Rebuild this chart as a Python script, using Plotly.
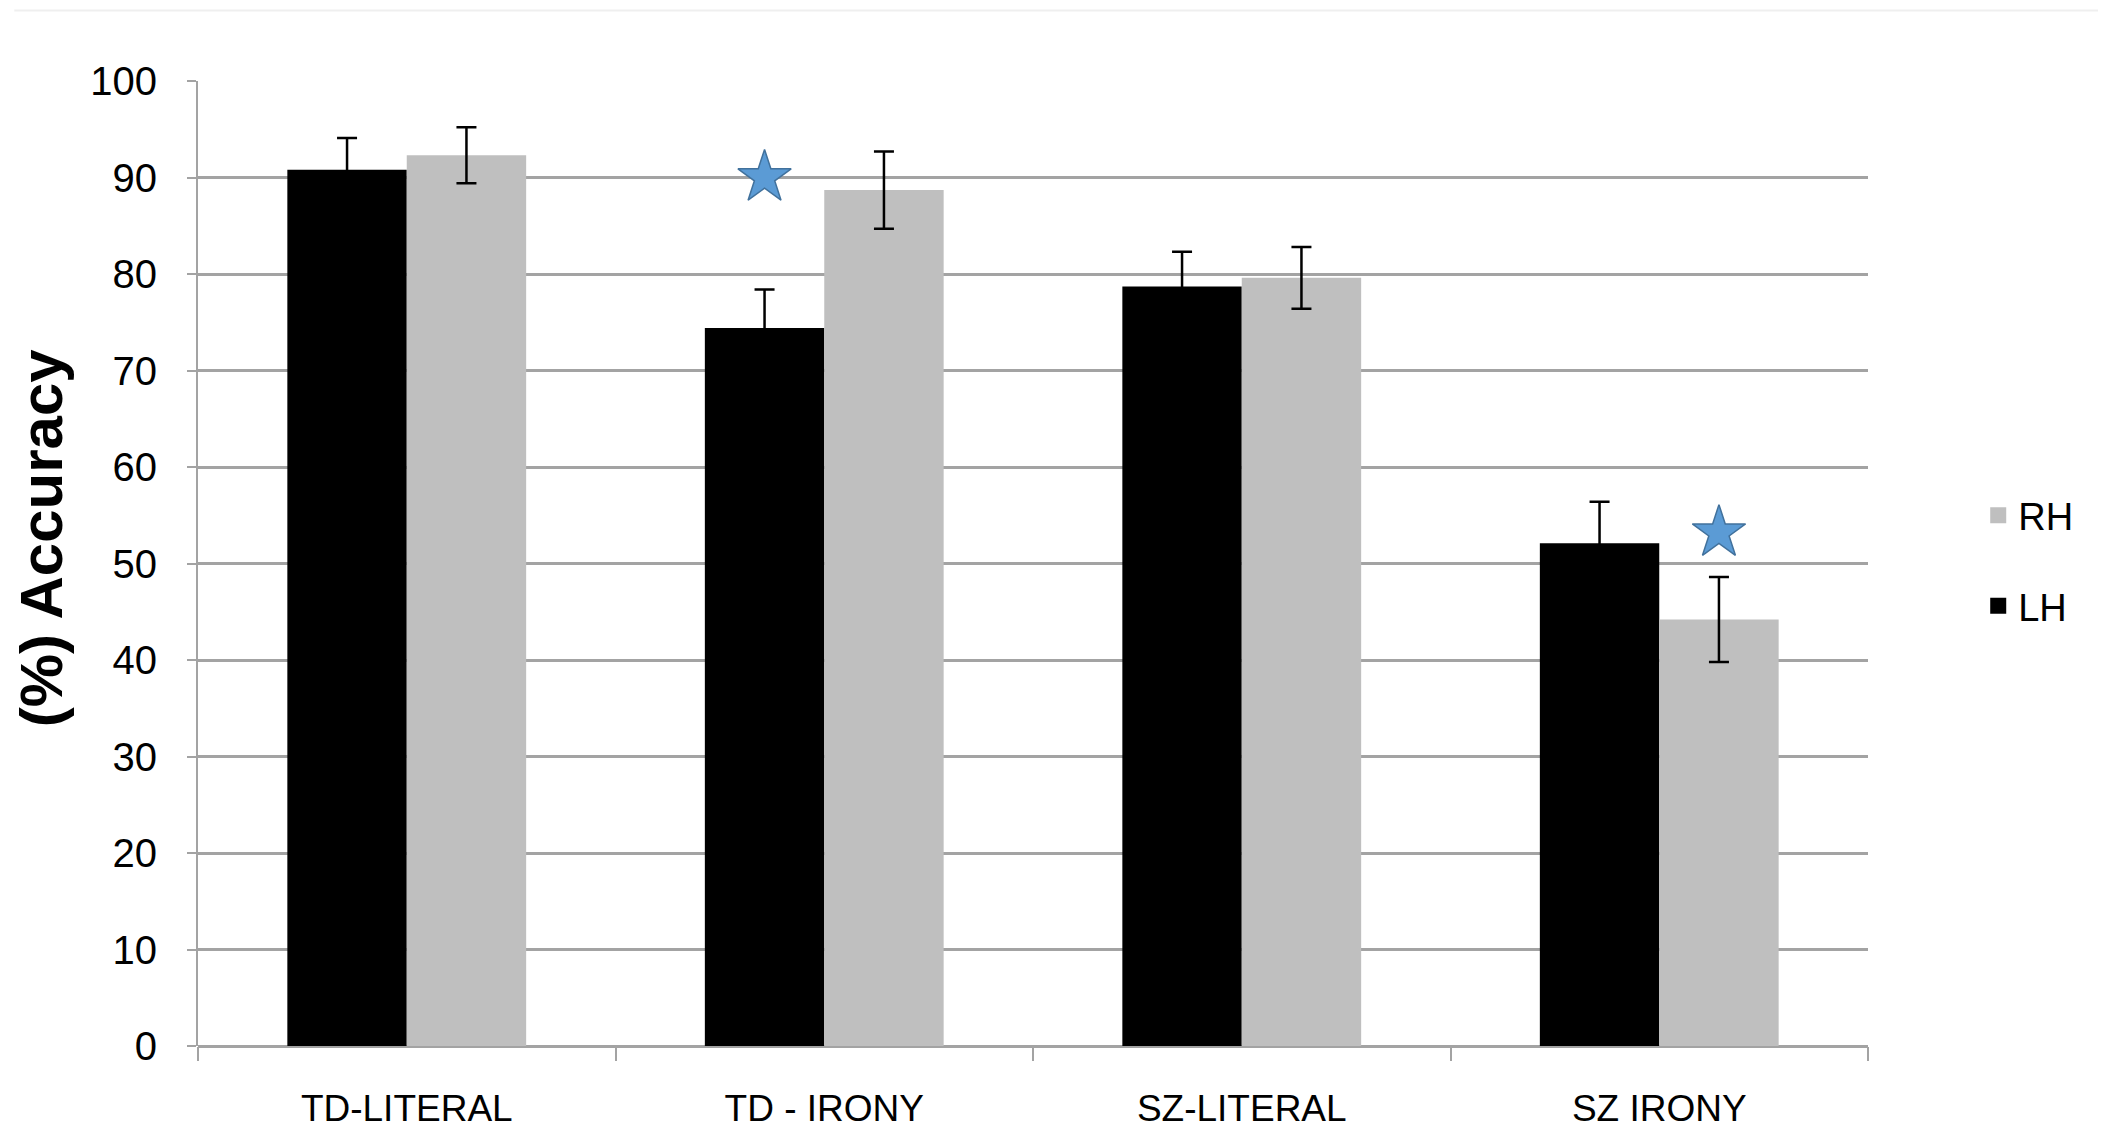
import plotly.graph_objects as go

categories = ["TD-LITERAL", "TD - IRONY", "SZ-LITERAL", "SZ IRONY"]
lh_values = [90.8, 74.4, 78.7, 52.1]
lh_errors = [3.3, 4.0, 3.6, 4.3]
rh_values = [92.3, 88.7, 79.6, 44.2]
rh_errors = [2.9, 4.0, 3.2, 4.4]
y_ticks = [0, 10, 20, 30, 40, 50, 60, 70, 80, 90, 100]

# significance stars: (category, y) for each hemisphere series
star_lh_x = ["TD - IRONY"]
star_lh_y = [90.0]
star_rh_x = ["SZ IRONY"]
star_rh_y = [53.2]

FONT = "Liberation Sans"
GRID = "#A3A3A3"
LH_COLOR = "#000000"
RH_COLOR = "#BFBFBF"

fig = go.Figure()
fig.add_trace(go.Bar(
    name="LH", x=categories, y=lh_values, offsetgroup="LH", showlegend=False,
    marker=dict(color=LH_COLOR, line=dict(width=0)),
    error_y=dict(type="data", array=lh_errors, visible=True, color="#000000",
                 thickness=2.5, width=10),
))
fig.add_trace(go.Bar(
    name="RH", x=categories, y=rh_values, offsetgroup="RH", showlegend=False,
    marker=dict(color=RH_COLOR, line=dict(width=0)),
    error_y=dict(type="data", array=rh_errors, visible=True, color="#000000",
                 thickness=2.5, width=10),
))
star_marker = dict(symbol="star", size=40, color="#5B9BD5",
                   line=dict(color="#41719C", width=1.5))
fig.add_trace(go.Scatter(x=star_lh_x, y=star_lh_y, mode="markers", offsetgroup="LH",
                         marker=star_marker, showlegend=False, hoverinfo="skip"))
fig.add_trace(go.Scatter(x=star_rh_x, y=star_rh_y, mode="markers", offsetgroup="RH",
                         marker=star_marker, showlegend=False, hoverinfo="skip"))

# legend entries (square swatches)
fig.add_trace(go.Scatter(name="RH", x=[None], y=[None], mode="markers", legendrank=1,
                         legendgroup="RH",
                         marker=dict(symbol="square", size=16, color=RH_COLOR)))
fig.add_trace(go.Scatter(name="LH", x=[None], y=[None], mode="markers", legendrank=2,
                         legendgroup="LH",
                         marker=dict(symbol="square", size=16, color=LH_COLOR)))

fig.update_layout(
    width=2106, height=1133,
    margin=dict(l=190, r=246, t=73, b=93, pad=0),
    paper_bgcolor="white", plot_bgcolor="white",
    barmode="group", bargap=0.428, bargroupgap=0,
    scattermode="group", scattergap=0.428,
    font=dict(family=FONT, size=37, color="#000000"),
    showlegend=True,
    legend=dict(x=1.066, y=0.503, xanchor="left", yanchor="middle",
                traceorder="grouped", tracegroupgap=38, itemsizing="trace",
                font=dict(family=FONT, size=38, color="#000000"),
                bgcolor="rgba(0,0,0,0)"),
    xaxis=dict(
        showgrid=False, showline=False, zeroline=False,
        ticks="outside", tickson="boundaries", ticklen=14, tickwidth=2,
        tickcolor=GRID, ticklabelstandoff=37,
        tickfont=dict(family=FONT, size=37, color="#000000"),
    ),
    yaxis=dict(
        range=[0, 100], tickvals=y_ticks, showgrid=True, gridcolor=GRID, gridwidth=2.5,
        zeroline=True, zerolinecolor=GRID, zerolinewidth=2.5,
        showline=True, linecolor=GRID, linewidth=2,
        ticks="outside", ticklen=9, tickwidth=2, tickcolor=GRID,
        ticklabelstandoff=22,
        tickfont=dict(family=FONT, size=40, color="#000000"),
    ),
    annotations=[dict(
        text="<b>(%) Accuracy</b>", xref="paper", yref="paper",
        x=-0.0935, y=0.527, xanchor="center", yanchor="middle",
        textangle=-90, showarrow=False,
        font=dict(family=FONT, size=60, color="#000000"),
    )],
    shapes=[dict(type="line", xref="paper", yref="paper", x0=-0.11, x1=1.14,
                 y0=1.073, y1=1.073, line=dict(color="#EFEFEF", width=2))],
)

fig.write_html("out.html")
